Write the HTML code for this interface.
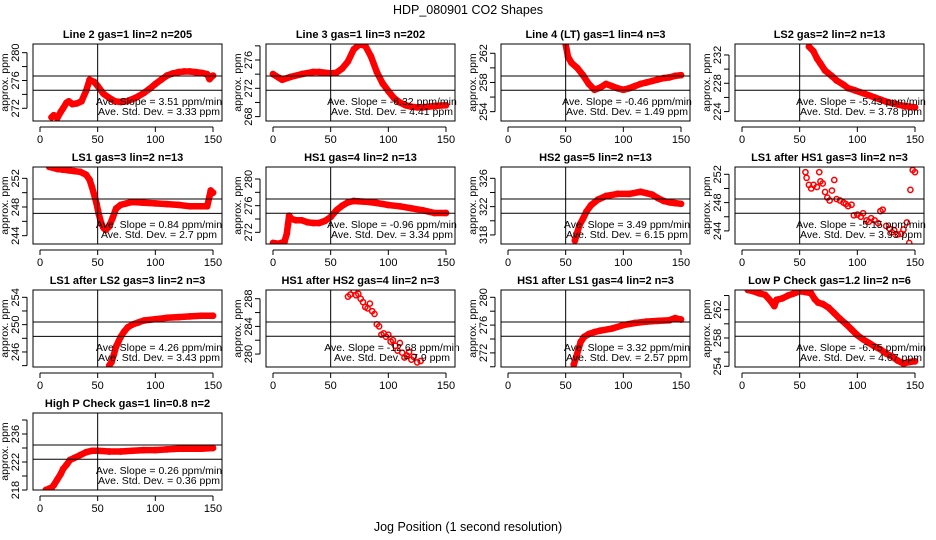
<!DOCTYPE html>
<html><head><meta charset="utf-8"><style>
html,body{margin:0;padding:0;background:#fff;}
svg{display:block;font-family:"Liberation Sans",Arial,sans-serif;}
</style></head><body>
<svg id="chart" width="936" height="540" viewBox="0 0 936 540" xmlns="http://www.w3.org/2000/svg">
<text x="468" y="14" text-anchor="middle" font-size="12.5">HDP_080901  CO2 Shapes</text>
<text x="468" y="531" text-anchor="middle" font-size="12.5">Jog Position (1 second resolution)</text>
<g id="panels"></g>
</svg>
<script>
const titles = ["Line 2 gas=1 lin=2 n=205","Line 3 gas=1 lin=3 n=202","Line 4 (LT) gas=1 lin=4 n=3","LS2 gas=2 lin=2 n=13","LS1 gas=3 lin=2 n=13","HS1 gas=4 lin=2 n=13","HS2 gas=5 lin=2 n=13","LS1 after HS1 gas=3 lin=2 n=3","LS1 after LS2 gas=3 lin=2 n=3","HS1 after HS2 gas=4 lin=2 n=3","HS1 after LS1 gas=4 lin=2 n=3","Low P Check gas=1.2 lin=2 n=6","High P Check gas=1 lin=0.8 n=2"];
const yMins = [270.17,267.38,252.72,222.67,242.84,270.25,316.72,242.15,243.8,278.13,269.97,253.9,218];
const yMaxs = [281.25,278.26,263.27,233.55,253.58,281.8,327.6,253.03,255.07,289.26,281.05,264.78,229];
const yLabelVals = [[272,276,280],[268,272,276],[254,258,262],[224,228,232],[244,248,252],[272,276,280],[318,322,326],[244,248,252],[246,250,254],[280,284,288],[272,276,280],[254,258,262],[218,222,226]];
const yLabelText = [["272","276","280"],["268","272","276"],["254","258","262"],["224","228","232"],["244","248","252"],["272","276","280"],["318","322","326"],["244","248","252"],["246","250","254"],["280","284","288"],["272","276","280"],["254","258","262"],["218","222","236"]];
const hiLines = [276.65,273.74,258.89,229.03,249.12,277.0,323.08,248.51,250.39,284.64,276.45,260.26,224.43];
const loLines = [274.59,271.72,256.93,227.01,247.12,274.86,321.06,246.49,248.29,282.57,274.39,258.24,222.39];
const slopes = ["3.51","-6.32","-0.46","-5.43","0.84","-0.96","3.49","-5.15","4.26","-12.68","3.32","-6.75","0.26"];
const sds = ["3.33","4.41","1.49","3.78","2.7","3.34","6.15","3.93","3.43","7.9","2.57","4.67","0.36"];
const connected = [1,1,1,1,1,1,1,0,1,0,1,1,1];
const xTicks = [0,50,100,150];
const xs = [
[10,12,15,18,20,23,25,28,32,36,40,43,47,50,55,60,65,70,75,80,85,90,95,100,105,110,115,120,125,130,135,140,145,147,150],
[0,5,8,15,25,35,40,50,55,60,65,70,75,80,85,90,95,100,105,110,115,120,125,130,140,150],
[50,52,55,60,65,70,75,80,85,90,95,100,105,110,115,120,125,130,135,140,145,150],
[58,62,65,68,72,78,82,88,92,98,105,110,115,120,125,130,135,140,145,150],
[8,15,20,25,30,35,40,43,45,47,49,51,53,55,57,60,63,66,70,75,80,90,100,110,120,130,140,145,147,148,150],
[0,5,10,12,13,14,16,20,25,30,35,40,45,50,55,60,65,70,80,90,100,110,120,130,140,150],
[58,60,62,65,68,72,78,85,95,105,115,120,125,130,135,140,145,150],
[55,56,58,60,62,65,67,68,70,72,74,76,78,80,82,85,88,90,92,95,97,100,103,105,108,110,112,115,118,120,122,125,128,130,132,135,138,140,143,145,146,148,150],
[60,62,64,66,68,70,73,76,80,85,90,100,110,120,130,140,150],
[65,67,70,72,74,76,78,80,82,84,86,88,90,92,94,96,98,100,102,104,106,108,110,112,114,116,118,120,122,125,128],
[57,59,61,63,66,70,75,80,90,100,110,120,130,140,145,150],
[5,10,15,20,25,28,30,35,40,45,50,55,60,63,66,70,75,80,85,90,95,100,105,110,115,120,125,130,135,140,145,150],
[5,8,10,12,15,18,20,23,26,30,35,40,45,50,60,70,80,90,100,110,120,130,140,150]];
const ys = [
[270.7,271,270.6,271.5,272,272.8,273,272.6,272.7,273,274.5,276.1,275.8,275.2,274.1,273.5,273,272.9,273,273.3,273.7,274.2,274.8,275.5,276.1,276.7,277.0,277.2,277.3,277.3,277.2,277.1,276.9,276.2,276.7],
[274,273.5,273.2,273.6,274,274.3,274.3,274.1,274.2,274.8,275.8,277.5,278.2,278,276.5,274.3,272.7,271.6,270.6,270,269.6,269.4,269.3,269.3,269.5,269.6],
[263.2,261.5,260.7,260,259,257.8,257,257.3,257.8,257.5,257.2,257,257.2,257.5,257.8,258,258.2,258.4,258.6,258.7,258.9,259],
[233.2,232.5,231.5,230.8,229.8,229,228.4,227.8,227.3,227,226.6,226.3,226,225.7,225.4,225.2,225,224.8,224.7,224.6],
[253.6,253.3,253.2,253.1,253,252.9,252.5,251.8,250.8,249.7,248.5,247,245.8,245.1,244.8,245.3,246.5,247.8,248.3,248.5,248.7,248.6,248.5,248.4,248.3,248.1,248.1,248.1,249.5,250.3,250],
[270.4,270.3,270.6,271.8,273.2,274.5,274,273.8,273.8,273.5,273.4,273.4,273.7,274.3,275.3,276,276.5,276.7,276.6,276.4,276.1,275.9,275.6,275.3,274.9,274.9],
[317.2,318.3,319.4,320.3,321.3,322.2,323,323.5,323.8,323.8,324.1,323.9,323.7,323.2,322.8,322.6,322.5,322.4],
[252.3,251.5,250.5,250,250.5,250.2,252.3,251,250.7,249.5,248.7,248.3,249.7,251.2,248.5,248.3,248,247.8,247.5,247.7,246.2,246.3,246,246.5,245.5,245.3,245.8,245.5,245.1,246.8,247,244.7,244.3,243.8,244.1,243.5,243.6,244.2,245.2,242.3,249.8,252.6,252.3],
[244,244.5,245.6,246.8,247.5,248.2,249,249.6,250,250.3,250.6,250.8,251,251.1,251.2,251.3,251.3],
[288.3,288.6,289.2,288.5,288.7,288,287.5,286.8,286.6,287.3,286.2,285.8,284.3,284,282.8,283,282.5,282.8,281.8,282,281.2,280.5,281.6,280.2,279.5,279.8,280.3,279.2,279.6,278.8,279],
[270.3,271.3,272.5,273.6,274.3,274.7,275,275.2,275.5,276,276.3,276.5,276.6,276.7,277,276.8],
[264.8,264.6,264.3,264.1,263.2,262.5,263.4,263.6,264,264.3,264.6,264.5,264.3,263.5,263,262.8,262.3,261.5,260.7,260,259.2,258.4,257.8,257.3,256.8,256.4,255.8,255.4,254.8,254.4,254.6,254.7],
[218,218.2,218.3,218.7,219.5,220.3,221,221.6,222.3,222.6,223,223.4,223.6,223.6,223.5,223.5,223.6,223.7,223.7,223.8,223.9,223.9,223.9,224]];

const NS="http://www.w3.org/2000/svg";
const root=document.getElementById('panels');
const colLeft=[33,266,501,735], rowTop=[44,167,290,413], W=189, H=77;
function mk(tag,attrs,parent){const e=document.createElementNS(NS,tag);for(const k in attrs)e.setAttribute(k,attrs[k]);parent.appendChild(e);return e;}
for(let p=0;p<titles.length;p++){
  const L=colLeft[p%4], T=rowTop[Math.floor(p/4)], R=L+W, B=T+H;
  const xS=v=>L+7+v*1.1533;
  const yS=v=>T+(yMaxs[p]-v)*H/(yMaxs[p]-yMins[p]);
  const g=mk('g',{},root);
  
  
  const t=mk('text',{x:(L+R)/2,y:T-6,'text-anchor':'middle','font-size':'11','font-weight':'bold'},g);
  
  
  t.textContent=titles[p];
  const cp=mk('clipPath',{id:'clip'+p},g);mk('rect',{x:L,y:T,width:W,height:H},cp);
  const pts=mk('g',{'clip-path':'url(#clip'+p+')'},g);
  
  
  if(connected[p]){
    const d=xs[p].map((x,i)=>(i?'L':'M')+xS(x).toFixed(1)+' '+yS(ys[p][i]).toFixed(1)).join(' ');
    const pl=mk('path',{d:d,fill:'none',stroke:'#f00','stroke-width':'6.5','stroke-linejoin':'round','stroke-linecap':'round'},pts);
    
    
  }
  xs[p].forEach((x,i)=>{
    const c=mk('circle',{cx:xS(x),cy:yS(ys[p][i]),r:2.6,fill:'none',stroke:'#f00','stroke-width':'1.5'},pts);
    
    
  });
  [hiLines[p],loLines[p]].forEach(v=>{
    const l=mk('line',{x1:L,x2:R,y1:yS(v),y2:yS(v),stroke:'#000','stroke-width':'1'},g);
    
    
  });
  const vl=mk('line',{x1:xS(50),x2:xS(50),y1:T,y2:B,stroke:'#000','stroke-width':'1'},g);
  
  
  const box=mk('rect',{x:L,y:T,width:W,height:H,fill:'none',stroke:'#000','stroke-width':'1'},g);
  
  
  const xa=mk('g',{},g);
  
  
  mk('line',{x1:xS(0),x2:xS(150),y1:B+6,y2:B+6,stroke:'#000'},xa);
  xTicks.forEach(v=>{
    mk('line',{x1:xS(v),x2:xS(v),y1:B+6,y2:B+11,stroke:'#000'},xa);
    const tl=mk('text',{x:xS(v),y:B+22,'text-anchor':'middle','font-size':'11'},xa);
    
    
    tl.textContent=v;
  });
  const ya=mk('g',{},g);
  
  
  const lo=Math.ceil(yMins[p]/2)*2, hi=Math.floor(yMaxs[p]/2)*2;
  mk('line',{x1:L-6,x2:L-6,y1:yS(lo),y2:yS(hi),stroke:'#000'},ya);
  for(let v=lo;v<=hi;v+=2){mk('line',{x1:L-11,x2:L-6,y1:yS(v),y2:yS(v),stroke:'#000'},ya);}
  yLabelVals[p].forEach((v,i)=>{
    const yy=yS(v);
    const tl=mk('text',{x:L-14,y:yy,'text-anchor':'middle','font-size':'11',transform:'rotate(-90 '+(L-14)+' '+yy+')'},ya);
    
    
    tl.textContent=yLabelText[p][i];
  });
  const yt=mk('text',{x:L-25,y:T+H/2,'text-anchor':'middle','font-size':'10.5',transform:'rotate(-90 '+(L-25)+' '+(T+H/2)+')'},g);
  
  
  yt.textContent='approx. ppm';
  const a1=mk('text',{x:L+126,y:T+61,'text-anchor':'middle','font-size':'10.5'},g);
  
  
  a1.textContent='Ave. Slope =  '+slopes[p]+'  ppm/min';
  const a2=mk('text',{x:L+126,y:T+71,'text-anchor':'middle','font-size':'10.5'},g);
  
  
  a2.textContent='Ave. Std. Dev. =  '+sds[p]+'  ppm';
}
</script>
</body></html>
